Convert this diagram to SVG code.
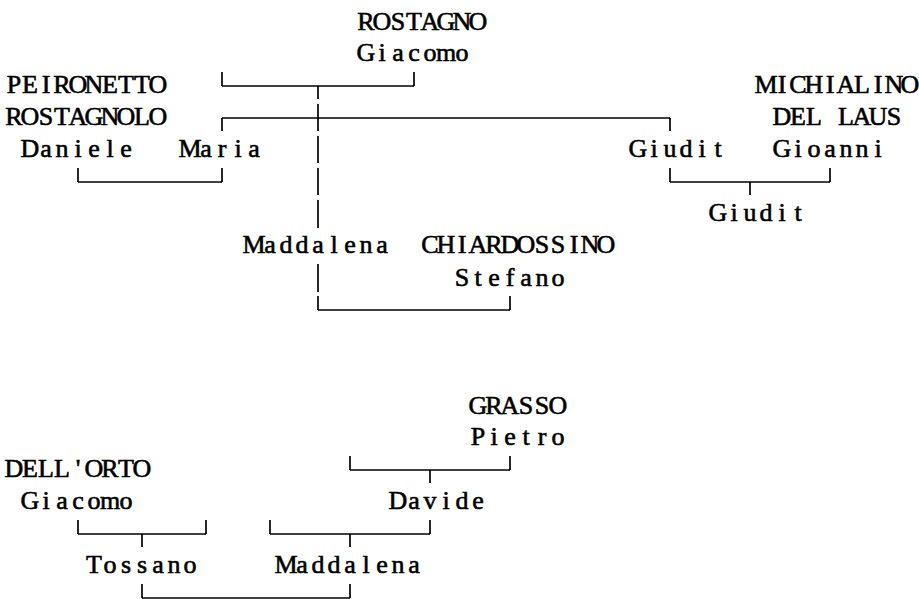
<svg xmlns="http://www.w3.org/2000/svg" width="919" height="599" viewBox="0 0 919 599">
<style>
text{font-family:"Liberation Serif","Times New Roman",serif;font-weight:normal;font-size:26px;text-anchor:middle;fill:#000;stroke:#000;stroke-width:0.6}
.c line{stroke:#000;stroke-width:1.7;fill:none}
</style>
<rect width="919" height="599" fill="#fff"/>
<g class="c" id="connectors">
<line x1="222" y1="86" x2="414" y2="86"/>
<line x1="222" y1="72" x2="222" y2="86"/>
<line x1="414" y1="72" x2="414" y2="86"/>
<line x1="318" y1="86" x2="318" y2="99"/>
<line x1="318" y1="104" x2="318" y2="131"/>
<line x1="318" y1="136" x2="318" y2="163"/>
<line x1="318" y1="168" x2="318" y2="195"/>
<line x1="318" y1="200" x2="318" y2="228"/>
<line x1="222" y1="118" x2="670" y2="118"/>
<line x1="222" y1="118" x2="222" y2="131"/>
<line x1="670" y1="118" x2="670" y2="131"/>
<line x1="78" y1="182" x2="222" y2="182"/>
<line x1="78" y1="168" x2="78" y2="182"/>
<line x1="222" y1="168" x2="222" y2="182"/>
<line x1="670" y1="182" x2="830" y2="182"/>
<line x1="670" y1="168" x2="670" y2="182"/>
<line x1="830" y1="168" x2="830" y2="182"/>
<line x1="750" y1="182" x2="750" y2="195"/>
<line x1="318" y1="264" x2="318" y2="292"/>
<line x1="318" y1="296" x2="318" y2="310"/>
<line x1="318" y1="310" x2="510" y2="310"/>
<line x1="510" y1="296" x2="510" y2="310"/>
<line x1="350" y1="470" x2="510" y2="470"/>
<line x1="350" y1="456" x2="350" y2="470"/>
<line x1="510" y1="456" x2="510" y2="470"/>
<line x1="430" y1="470" x2="430" y2="483"/>
<line x1="78" y1="534" x2="206" y2="534"/>
<line x1="78" y1="520" x2="78" y2="534"/>
<line x1="206" y1="520" x2="206" y2="534"/>
<line x1="142" y1="534" x2="142" y2="547"/>
<line x1="270" y1="534" x2="430" y2="534"/>
<line x1="270" y1="520" x2="270" y2="534"/>
<line x1="430" y1="520" x2="430" y2="534"/>
<line x1="350" y1="534" x2="350" y2="547"/>
<line x1="142" y1="598" x2="350" y2="598"/>
<line x1="142" y1="584" x2="142" y2="598"/>
<line x1="350" y1="584" x2="350" y2="598"/>
</g>
<g id="rostagno-giacomo">
<text x="366 382 398 414 430 446 462 478" y="30">ROSTAGNO</text>
<text x="366 382 398 414 430 446 462" y="61">Giacomo</text>
</g>
<g id="peironetto-rostagnolo-daniele">
<text x="14 30 46 62 78 94 110 126 142 158" y="93">PEIRONETTO</text>
<text x="14 30 46 62 78 94 110 126 142 158" y="125">ROSTAGNOLO</text>
<text x="30 46 62 78 94 110 126" y="157">Daniele</text>
</g>
<g id="maria">
<text x="190 206 222 238 254" y="157">Maria</text>
</g>
<g id="michialino-gioanni">
<text x="766 782 798 814 830 846 862 878 894 910" y="93">MICHIALINO</text>
<text x="782 798 814 830 846 862 878 894" y="125">DEL LAUS</text>
<text x="782 798 814 830 846 862 878" y="157">Gioanni</text>
</g>
<g id="giudit-1">
<text x="638 654 670 686 702 718" y="157">Giudit</text>
</g>
<g id="giudit-2">
<text x="718 734 750 766 782 798" y="221">Giudit</text>
</g>
<g id="maddalena-1">
<text x="254 270 286 302 318 334 350 366 382" y="253">Maddalena</text>
</g>
<g id="chiardossino-stefano">
<text x="430 446 462 478 494 510 526 542 558 574 590 606" y="253">CHIARDOSSINO</text>
<text x="462 478 494 510 526 542 558" y="286">Stefano</text>
</g>
<g id="grasso-pietro">
<text x="478 494 510 526 542 558" y="414">GRASSO</text>
<text x="478 494 510 526 542 558" y="445">Pietro</text>
</g>
<g id="dellorto-giacomo">
<text x="14 30 46 62 78 94 110 126 142" y="477">DELL'ORTO</text>
<text x="30 46 62 78 94 110 126" y="509">Giacomo</text>
</g>
<g id="davide">
<text x="398 414 430 446 462 478" y="509">Davide</text>
</g>
<g id="tossano">
<text x="94 110 126 142 158 174 190" y="573">Tossano</text>
</g>
<g id="maddalena-2">
<text x="286 302 318 334 350 366 382 398 414" y="573">Maddalena</text>
</g>
</svg>
